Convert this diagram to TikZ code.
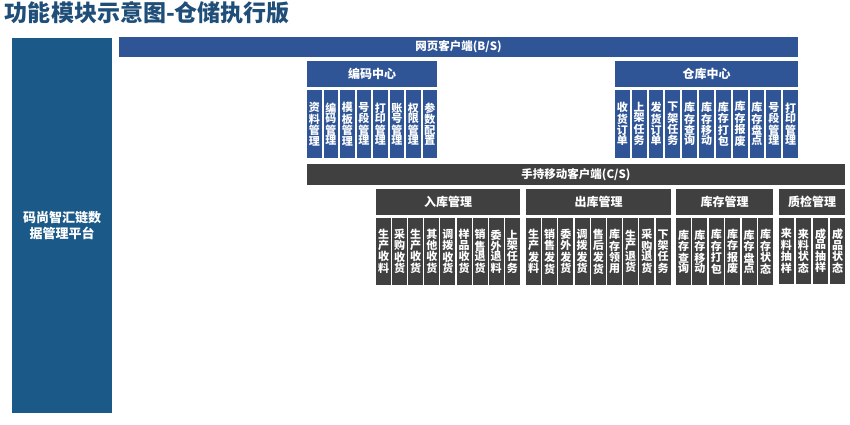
\documentclass[tikz,border=0pt]{standalone}
\usepackage{fontspec}
\setmainfont{Noto Sans CJK SC}
\usetikzlibrary{positioning, calc}
\definecolor{titleblue}{HTML}{1F4E79}
\definecolor{platblue}{HTML}{1B5A88}
\definecolor{webblue}{HTML}{2F5597}
\definecolor{handgray}{HTML}{404040}
\XeTeXlinebreaklocale "zh"
\XeTeXlinebreakskip=0pt plus 1pt

\begin{document}
\begin{tikzpicture}[
  x=1pt, y=-1pt,
  every node/.style={text=white, inner sep=0pt, outer sep=0pt},
  blk/.style   = {anchor=north west, font=\bfseries\fontsize{12}{14}\selectfont},
  web/.style   = {blk, fill=webblue},
  hand/.style  = {blk, fill=handgray},
  vcell/.style = {anchor=north west, text width=12pt, align=center, font=\bfseries\fontsize{11}{10.4}\selectfont},
  vweb/.style  = {vcell, fill=webblue, minimum height=68},
  vhand/.style = {vcell, fill=handgray, minimum height=67},
]
  \useasboundingbox (0,0) rectangle (850,424);
  % title and platform column
  \node[anchor=north west, text=titleblue, font=\bfseries\fontsize{23}{25}\selectfont] (title) at (5,1.5) {功能模块示意图-仓储执行版};
  \node[blk, fill=platblue, minimum width=100, minimum height=375, align=center,
        font=\bfseries\fontsize{13}{16}\selectfont] (plat) at (12,38) {码尚智汇链数\\据管理平台};

  % web client (B/S)
  \node[web, minimum width=679, minimum height=20, font=\bfseries\fontsize{11.5}{13}\selectfont] (bs) at (119,37) {网页客户端(B/S)};
  \node[web, minimum width=130, minimum height=26] (bm) at (307,61) {编码中心};
  \foreach \t [count=\i] in {资料管理,编码管理,模板管理,号段管理,打印管理,账号管理,权限管理,参数配置}
    \node[vweb, minimum width=14.5] (bm\i) at ($(bm.south west)+({(\i-1)*16.5},3)$) {\t};
  \node[web, minimum width=183, minimum height=26] (ck) at (615,61) {仓库中心};
  \foreach \t [count=\i] in {收货订单,上架任务,发货订单,下架任务,库存查询,库存移动,库存打包,库存报废,库存盘点,号段管理,打印管理}
    \node[vweb, minimum width=14.8] (ck\i) at ($(ck.south west)+({(\i-1)*16.82},3)$) {\t};

  % handheld client (C/S)
  \node[hand, minimum width=538, minimum height=21, font=\bfseries\fontsize{11.5}{13}\selectfont] (cs) at (307,164) {手持移动客户端(C/S)};
  \node[hand, minimum width=144, minimum height=26] (rk) at (376,189) {入库管理};
  \foreach \t [count=\i] in {生产收料,采购收货,生产收货,其他收货,调拨收货,样品收货,销售退货,委外退料,上架任务}
    \node[vhand, minimum width=15] (rk\i) at ($(rk.south west)+({(\i-1)*16.1},3)$) {\t};
  \node[hand, minimum width=145, minimum height=26] (chk) at (526,189) {出库管理};
  \foreach \t [count=\i] in {生产发料,销售发货,委外发货,调拨发货,售后发货,库存领用,生产退货,采购退货,下架任务}
    \node[vhand, minimum width=15] (chk\i) at ($(chk.south west)+({(\i-1)*16.2},3)$) {\t};
  \node[hand, minimum width=97, minimum height=26] (kc) at (676,189) {库存管理};
  \foreach \t [count=\i] in {库存查询,库存移动,库存打包,库存报废,库存盘点,库存状态}
    \node[vhand, minimum width=15] (kc\i) at ($(kc.south west)+({(\i-1)*16.4},3)$) {\t};
  \node[hand, minimum width=66, minimum height=26] (zj) at (779,189) {质检管理};
  \foreach \t [count=\i] in {来料抽样,来料状态,成品抽样,成品状态}
    \node[vhand, minimum width=14.7, minimum height=66] (zj\i) at ($(zj.south west)+({(\i-1)*17.1},3)$) {\t};
\end{tikzpicture}
\end{document}
